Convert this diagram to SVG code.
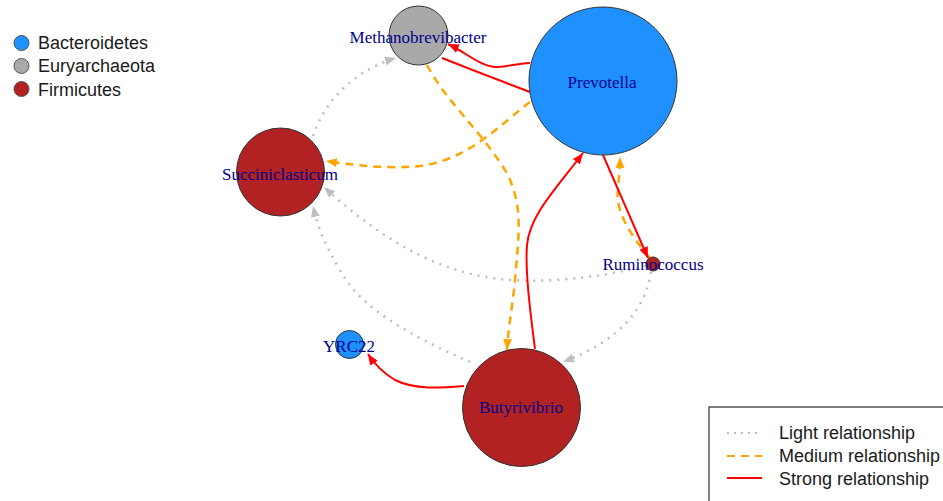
<svg xmlns="http://www.w3.org/2000/svg" width="943" height="501" viewBox="0 0 943 501">
<style>
.node{stroke:#333;stroke-width:1}
.lbl{font-family:"Liberation Serif",serif;font-size:17px;fill:#00008B;text-anchor:middle}
.leg{font-family:"Liberation Sans",Arial,sans-serif;font-size:18px;fill:#1a1a1a}
.light{fill:none;stroke:#BEBEBE;stroke-width:2.5;stroke-dasharray:2 6;stroke-linecap:butt}
.medium{fill:none;stroke:#FFA500;stroke-width:2.5;stroke-dasharray:8 6}
.strong{fill:none;stroke:#FF0000;stroke-width:2}
</style>
<defs>
<marker id="aGrey" markerUnits="userSpaceOnUse" markerWidth="12" markerHeight="10" refX="11" refY="4.5" orient="auto"><path d="M0,0 L11,4.5 L0,9 z" fill="#BEBEBE"/></marker>
<marker id="aOrange" markerUnits="userSpaceOnUse" markerWidth="12" markerHeight="10" refX="11" refY="4.5" orient="auto"><path d="M0,0 L11,4.5 L0,9 z" fill="#FFA500"/></marker>
<marker id="aRed" markerUnits="userSpaceOnUse" markerWidth="12" markerHeight="10" refX="11" refY="4.5" orient="auto"><path d="M0,0 L11,4.5 L0,9 z" fill="#FF0000"/></marker>
</defs>
<rect width="943" height="501" fill="#fff"/>
<g id="edges">
<path class="light" d="M313,136 C325,100 355,70 396,58" marker-end="url(#aGrey)"/>
<path class="light" d="M646,266 C610,275 560,283 510,280 C450,276 390,248 324,187" marker-end="url(#aGrey)"/>
<path class="light" d="M470,362 C420,340 360,310 340,270 C325,245 318,228 313,206" marker-end="url(#aGrey)"/>
<path class="light" d="M651,272 C645,310 620,340 563,362" marker-end="url(#aGrey)"/>
<path class="medium" d="M530,102 C505,120 470,160 420,166 C390,169 360,166 326,161" marker-end="url(#aOrange)"/>
<path class="medium" d="M427,65 C445,100 480,130 505,170 C525,205 518,240 515,280 C512,310 508,330 507,350" marker-end="url(#aOrange)"/>
<path class="medium" d="M650,258 C630,235 615,210 618,190 C619,175 620,168 620,157" marker-end="url(#aOrange)"/>
<path class="strong" d="M530,63 C515,64 505,67 495,67 C480,66 465,52 448,44" marker-end="url(#aRed)"/>
<path class="strong" d="M442,58 Q485,75 530,92"/>
<path class="strong" d="M535,349 C530,310 525,270 527,245 C530,215 555,190 583,153" marker-end="url(#aRed)"/>
<path class="strong" d="M603,155 L648,258" marker-end="url(#aRed)"/>
<path class="strong" d="M464,386 C440,388 415,390 395,380 C385,374 375,365 368,354" marker-end="url(#aRed)"/>
</g>
<g id="Methanobrevibacter"><circle class="node" cx="418.5" cy="35.5" r="29.5" fill="#A9A9A9"/><text class="lbl" x="418" y="43">Methanobrevibacter</text></g>
<g id="Prevotella"><circle class="node" cx="603" cy="81" r="74" fill="#1E90FF"/><text class="lbl" x="602" y="88">Prevotella</text></g>
<g id="Succiniclasticum"><circle class="node" cx="280.5" cy="172" r="44" fill="#B22222"/><text class="lbl" x="280" y="180">Succiniclasticum</text></g>
<g id="Ruminococcus"><circle class="node" cx="653" cy="264" r="7" fill="#B22222"/><text class="lbl" x="653" y="270">Ruminococcus</text></g>
<g id="YRC22"><circle class="node" cx="349.5" cy="344.5" r="14" fill="#1E90FF"/><text class="lbl" x="349" y="352">YRC22</text></g>
<g id="Butyrivibrio"><circle class="node" cx="521.5" cy="407.5" r="59" fill="#B22222"/><text class="lbl" x="521" y="413">Butyrivibrio</text></g>
<g id="legend-phylum">
<circle cx="21.5" cy="43" r="7.5" fill="#1E90FF" stroke="#555" stroke-width="1"/>
<circle cx="21.5" cy="66" r="7.5" fill="#A9A9A9" stroke="#555" stroke-width="1"/>
<circle cx="21.5" cy="89" r="7.5" fill="#B22222" stroke="#555" stroke-width="1"/>
<text class="leg" x="38" y="49">Bacteroidetes</text>
<text class="leg" x="38" y="72">Euryarchaeota</text>
<text class="leg" x="38" y="96">Firmicutes</text>
</g>
<g id="legend-relationship">
<rect x="709" y="407" width="250" height="110" fill="#fff" stroke="#000" stroke-width="1"/>
<line x1="727" y1="433" x2="760" y2="433" stroke="#BEBEBE" stroke-width="2" stroke-dasharray="2 5"/>
<line x1="727" y1="456" x2="762" y2="456" stroke="#FFA500" stroke-width="2" stroke-dasharray="8 6"/>
<line x1="727" y1="478" x2="762" y2="478" stroke="#FF0000" stroke-width="2"/>
<text class="leg" x="779" y="439">Light relationship</text>
<text class="leg" x="779" y="462">Medium relationship</text>
<text class="leg" x="779" y="485">Strong relationship</text>
</g>
</svg>
